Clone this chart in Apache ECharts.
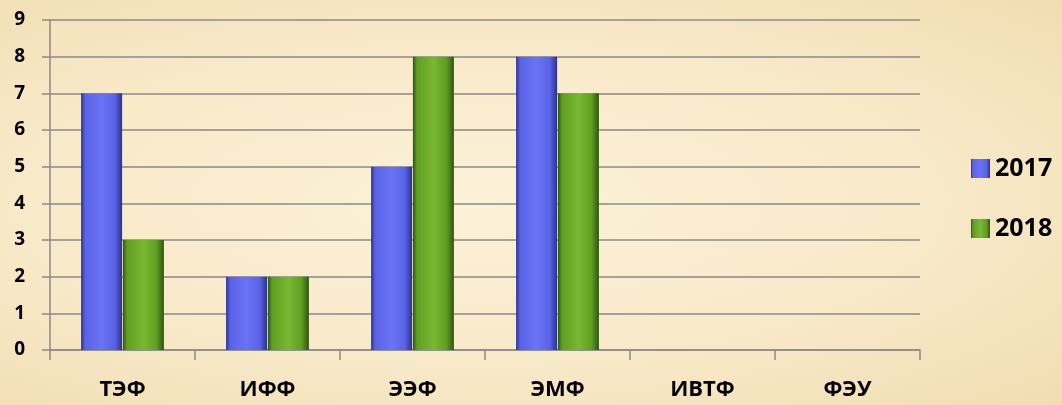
<!DOCTYPE html>
<html><head><meta charset="utf-8">
<script src="https://cdn.jsdelivr.net/npm/echarts@6/dist/echarts.min.js"></script>
<style>
html,body{margin:0;padding:0;}
body{width:1062px;height:405px;background:radial-gradient(ellipse at 45% 50%, #fcf1d8 0%, #f8e9c8 55%, #f1ddb2 100%);}
#c{width:1062px;height:405px;}
</style></head>
<body><div id="c"></div>
<script>
const categories = ['ТЭФ','ИФФ','ЭЭФ','ЭМФ','ИВТФ','ФЭУ'];
const values2017 = [7,2,5,8,0,0];
const values2018 = [3,2,8,7,0,0];
const yTicks = [0,1,2,3,4,5,6,7,8,9];

function grad(dark, mid, light){
  return {type:'linear',x:0,y:0,x2:1,y2:0,colorStops:[
    {offset:0,color:dark},{offset:0.1,color:mid},{offset:0.5,color:light},{offset:0.82,color:mid},{offset:1,color:dark}]};
}
const chart = echarts.init(document.getElementById('c'),null,{renderer:'canvas'});
chart.setOption({
  backgroundColor:'transparent',
  animation:false,
  grid:{left:50,right:142,top:20,bottom:55,containLabel:false},
  legend:{orient:'vertical',left:966,top:151,itemWidth:19,itemHeight:19,itemGap:35,icon:'rect',
    textStyle:{fontFamily:'Open Sans',fontWeight:'bold',fontSize:25,color:'#000'},
    data:['2017','2018']},
  xAxis:{type:'category',data:categories,
    axisLine:{lineStyle:{color:'#8a8a8a',width:1.5}},
    axisTick:{show:true,length:10,lineStyle:{color:'#8a8a8a',width:1.5}},
    axisLabel:{margin:29,fontFamily:'Open Sans',fontWeight:'bold',fontSize:22,color:'#000'}},
  yAxis:{type:'value',min:0,max:9,interval:1,
    axisLine:{show:true,lineStyle:{color:'#8a8a8a',width:1.5}},
    axisTick:{show:true,length:8,lineStyle:{color:'#8a8a8a',width:1.5}},
    splitLine:{lineStyle:{color:'#8a8a8a',width:1.5}},
    axisLabel:{margin:25,fontFamily:'Open Sans',fontWeight:'bold',fontSize:19,color:'#000',
      formatter:v=>yTicks.includes(v)?String(v):''}},
  series:[
    {name:'2017',type:'bar',data:values2017,barWidth:41,barGap:'2%',
     itemStyle:{color:grad('#2c3190','#5a63e6','#6a73f5'),borderWidth:0}},
    {name:'2018',type:'bar',data:values2018,barWidth:41,barGap:'2%',
     itemStyle:{color:grad('#2f5510','#5f9e22','#78b832'),borderWidth:0}}
  ]
});
</script></body></html>
